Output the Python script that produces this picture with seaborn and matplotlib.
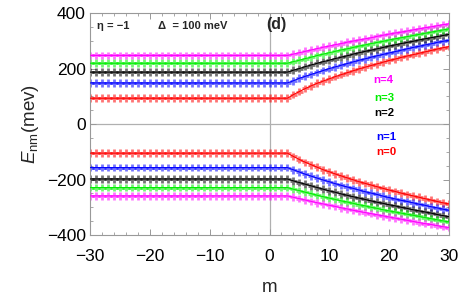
import matplotlib
matplotlib.use("Agg")
import matplotlib.pyplot as plt
import pandas as pd
import seaborn as sns
from matplotlib.ticker import MultipleLocator

m_values = list(range(-30, 31))

# positive branch (meV)
pos_n0 = [93, 93, 93, 93, 93, 93, 93, 93, 93, 93, 93, 93, 93, 93, 93, 93, 93,
          93, 93, 93, 93, 93, 93, 93, 93, 93, 93, 93, 93, 93, 93, 93, 93, 93,
          106, 117, 128, 138, 147, 155, 163, 171, 178, 185, 192, 199, 205, 211,
          217, 223, 229, 234, 240, 245, 250, 255, 260, 265, 270, 275, 279]
pos_n1 = [148, 148, 148, 148, 148, 148, 148, 148, 148, 148, 148, 148, 148, 148,
          148, 148, 148, 148, 148, 148, 148, 148, 148, 148, 148, 148, 148, 148,
          148, 148, 148, 148, 148, 148,
          156, 165, 172, 179, 186, 193, 200, 206, 212, 218, 224, 230, 235, 241,
          246, 251, 256, 261, 266, 271, 276, 280, 285, 289, 294, 298, 302]
pos_n2 = [187, 187, 187, 187, 187, 187, 187, 187, 187, 187, 187, 187, 187, 187,
          187, 187, 187, 187, 187, 187, 187, 187, 187, 187, 187, 187, 187, 187,
          187, 187, 187, 187, 187, 187,
          194, 200, 207, 213, 219, 225, 230, 236, 241, 246, 252, 257, 262, 266,
          271, 276, 281, 285, 290, 294, 298, 303, 307, 311, 315, 319, 323]
pos_n3 = [219, 219, 219, 219, 219, 219, 219, 219, 219, 219, 219, 219, 219, 219,
          219, 219, 219, 219, 219, 219, 219, 219, 219, 219, 219, 219, 219, 219,
          219, 219, 219, 219, 219, 219,
          225, 230, 236, 241, 247, 252, 257, 262, 267, 271, 276, 281, 285, 290,
          294, 298, 303, 307, 311, 315, 319, 323, 327, 331, 335, 339, 343]
pos_n4 = [247, 247, 247, 247, 247, 247, 247, 247, 247, 247, 247, 247, 247, 247,
          247, 247, 247, 247, 247, 247, 247, 247, 247, 247, 247, 247, 247, 247,
          247, 247, 247, 247, 247, 247,
          252, 257, 262, 267, 272, 277, 281, 286, 290, 295, 299, 303, 307, 311,
          316, 320, 324, 328, 331, 335, 339, 343, 347, 350, 354, 358, 361]

# negative branch (meV)
neg_n0 = [-105, -105, -105, -105, -105, -105, -105, -105, -105, -105, -105,
          -105, -105, -105, -105, -105, -105, -105, -105, -105, -105, -105,
          -105, -105, -105, -105, -105, -105, -105, -105, -105, -105, -105, -105,
          -117, -128, -138, -147, -156, -165, -172, -180, -187, -194, -201,
          -208, -214, -220, -226, -232, -238, -243, -249, -254, -259, -264,
          -269, -274, -279, -284, -288]
neg_n1 = [-157, -157, -157, -157, -157, -157, -157, -157, -157, -157, -157,
          -157, -157, -157, -157, -157, -157, -157, -157, -157, -157, -157,
          -157, -157, -157, -157, -157, -157, -157, -157, -157, -157, -157, -157,
          -165, -173, -181, -188, -195, -202, -208, -215, -221, -227, -232,
          -238, -244, -249, -254, -260, -265, -270, -275, -279, -284, -289,
          -293, -298, -302, -307, -311]
neg_n2 = [-198, -198, -198, -198, -198, -198, -198, -198, -198, -198, -198,
          -198, -198, -198, -198, -198, -198, -198, -198, -198, -198, -198,
          -198, -198, -198, -198, -198, -198, -198, -198, -198, -198, -198, -198,
          -205, -211, -217, -223, -229, -235, -241, -246, -252, -257, -262,
          -267, -272, -277, -282, -286, -291, -295, -300, -304, -309, -313,
          -317, -321, -326, -330, -334]
neg_n3 = [-229, -229, -229, -229, -229, -229, -229, -229, -229, -229, -229,
          -229, -229, -229, -229, -229, -229, -229, -229, -229, -229, -229,
          -229, -229, -229, -229, -229, -229, -229, -229, -229, -229, -229, -229,
          -235, -240, -246, -251, -257, -262, -267, -272, -277, -281, -286,
          -291, -295, -300, -304, -309, -313, -317, -321, -325, -329, -333,
          -337, -341, -345, -349, -353]
neg_n4 = [-259, -259, -259, -259, -259, -259, -259, -259, -259, -259, -259,
          -259, -259, -259, -259, -259, -259, -259, -259, -259, -259, -259,
          -259, -259, -259, -259, -259, -259, -259, -259, -259, -259, -259, -259,
          -264, -269, -274, -279, -284, -288, -293, -297, -302, -306, -311,
          -315, -319, -323, -327, -331, -335, -339, -343, -347, -351, -355,
          -359, -362, -366, -370, -373]

level_names = ["n=0", "n=1", "n=2", "n=3", "n=4"]
level_colors = ["#ff0000", "#0000ff", "#000000", "#00ee00", "#ff00ff"]
pos_series = [pos_n0, pos_n1, pos_n2, pos_n3, pos_n4]
neg_series = [neg_n0, neg_n1, neg_n2, neg_n3, neg_n4]

rows = []
for name, pvals, nvals in zip(level_names, pos_series, neg_series):
    for m, e in zip(m_values, pvals):
        rows.append({"m": m, "E": e, "n": name, "branch": name + "+"})
    for m, e in zip(m_values, nvals):
        rows.append({"m": m, "E": e, "n": name, "branch": name + "-"})
df = pd.DataFrame(rows)
palette = dict(zip(level_names, level_colors))

sns.set_style("ticks")
plt.rcParams["font.family"] = ["Liberation Sans", "DejaVu Sans"]
plt.rcParams["mathtext.fontset"] = "custom"
plt.rcParams["mathtext.rm"] = "Liberation Sans"
plt.rcParams["mathtext.it"] = "Liberation Sans:italic"
plt.rcParams["axes.unicode_minus"] = True

fig = plt.figure(figsize=(4.63, 2.99), dpi=100)
ax = fig.add_axes([0.1944, 0.2140, 0.7754, 0.7425])

ax.axhline(0, color="#b0b0b0", lw=0.9, zorder=0)
ax.axvline(0, color="#b0b0b0", lw=0.9, zorder=0)

sns.scatterplot(data=df, x="m", y="E", hue="n", palette=palette, marker="+",
                s=30, linewidth=2.0, alpha=0.55, legend=False, ax=ax, zorder=2)
sns.lineplot(data=df, x="m", y="E", hue="n", units="branch", estimator=None,
             palette=palette, lw=0.8, legend=False, ax=ax, zorder=3)

ax.set_xlim(-30, 30)
ax.set_ylim(-400, 400)
ax.xaxis.set_major_locator(MultipleLocator(10))
ax.xaxis.set_minor_locator(MultipleLocator(2))
ax.yaxis.set_major_locator(MultipleLocator(200))
ax.yaxis.set_minor_locator(MultipleLocator(50))
ax.tick_params(which="both", direction="in", top=True, right=True,
               color="#999999", labelsize=12.5, labelcolor="black")
ax.tick_params(axis="y", which="both", pad=3)
ax.tick_params(axis="x", which="both", pad=10)
ax.tick_params(which="major", length=4, width=0.7)
ax.tick_params(which="minor", length=2, width=0.6)
for sp in ax.spines.values():
    sp.set_color("#999999")
    sp.set_linewidth(0.8)

ax.set_xlabel("m", fontsize=13.5, labelpad=11)
ax.set_ylabel(r"$E_{\mathrm{nm}}$(mev)", fontsize=13.5, labelpad=4)

ax.text(-28.9, 353, "\u03b7 = \u22121", fontsize=8, fontweight="bold",
        va="center", ha="left")
ax.text(-18.6, 353, "\u0394  = 100 meV", fontsize=8, fontweight="bold",
        va="center", ha="left")
ax.text(-0.6, 357, "(d)", fontsize=11.5, fontweight="bold", va="center",
        ha="left")

label_pos = [(17.8, -101), (17.8, -47), (17.5, 40), (17.5, 94), (17.3, 160)]
for (x, y), name, col in zip(label_pos, level_names, level_colors):
    ax.text(x, y, name, color=col, fontsize=8.2, fontweight="bold",
            va="center", ha="left")

fig.savefig("out.png", dpi=100)
